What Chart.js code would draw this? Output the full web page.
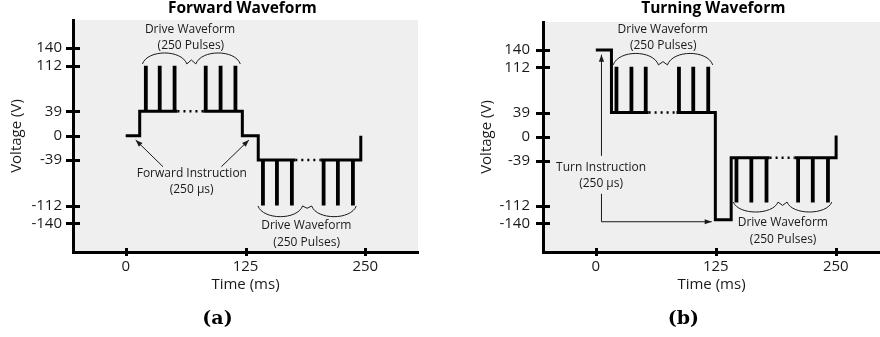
<!DOCTYPE html>
<html><head><meta charset="utf-8">
<script src="https://cdn.jsdelivr.net/npm/chart.js@4.4.1/dist/chart.umd.min.js"></script>
<style>
html,body{margin:0;padding:0;background:#fff;width:880px;height:337px;overflow:hidden}
#wrap{position:relative;width:880px;height:337px}
canvas{position:absolute;top:0}
#ca{left:0}#cb{left:440px}
</style></head><body>
<div id="wrap"><canvas id="ca" width="440" height="337"></canvas><canvas id="cb" width="440" height="337"></canvas></div>
<script>
// ---------------- data ----------------
const xTicks = [0, 125, 250];
const yTicks = [140, 112, 39, 0, -39, -112, -140];

// (a) Forward waveform: step outline (null = break), dotted gaps, pulses
const fwdStepT = [0, 14.6, 14.6, 54, null, 81, 121.7, 121.7, 138.3, 138.3, 177, null, 203, 245.3, 245.3];
const fwdStepV = [0, 0, 39, 39, null, 39, 39, 0, 0, -39, -39, null, -39, -39, 0];
const fwdGapT = [54, 81, null, 177, 203];
const fwdGapV = [39, 39, null, -39, -39];
const fwdPulseUpT = [21, 35.5, 51, 83.5, 99, 114.5];
const fwdPulseDownT = [143.2, 157.8, 173.4, 206.5, 221.4, 237.1];
const fwdUpBase = 39, fwdUpPeak = 112, fwdDownBase = -39, fwdDownPeak = -111.5;

// (b) Turning waveform
const turnStepT = [0, 16.3, 16.3, 55, null, 84, 124.5, 124.5, 141, 141, 181, null, 207, 250.3, 250.3];
const turnStepV = [140, 140, 39, 39, null, 39, 39, -134, -134, -34, -34, null, -34, -34, 2];
const turnGapT = [55, 84, null, 181, 207];
const turnGapV = [39, 39, null, -34, -34];
const turnPulseUpT = [21.5, 37.1, 52, 86.6, 101.5, 117.1];
const turnPulseDownT = [146.5, 162, 177.8, 210.7, 226, 241.8];
const turnUpBase = 39, turnUpPeak = 113, turnDownBase = -34, turnDownPeak = -106;

// ---------------- helpers ----------------
const FONT = '"Open Sans", sans-serif';
const INK = '#1a1a1a';

function zipPts(T, V) {
  const out = [];
  for (let i = 0; i < T.length; i++) {
    if (T[i] === null) out.push({x: T[i - 1], y: null});
    else out.push({x: T[i], y: V[i]});
  }
  return out;
}
function pulsePts(times, base, peak) {
  const out = [];
  times.forEach(t => { out.push({x: t, y: base}, {x: t, y: peak}, {x: t, y: null}); });
  return out;
}

function drawBrace(ctx, x0, x1, yEnd, yBow, yZig) {
  const xm = (x0 + x1) / 2, w = 4.5;
  const c = (yBow - 0.25 * yEnd) / 0.75;
  const L = (xm - w) - x0;
  ctx.beginPath();
  ctx.moveTo(x0, yEnd);
  ctx.bezierCurveTo(x0 + L * 0.12, c, xm - w - L * 0.12, c, xm - w, yEnd);
  ctx.lineTo(xm, yZig);
  ctx.lineTo(xm + w, yEnd);
  ctx.bezierCurveTo(xm + w + L * 0.12, c, x1 - L * 0.12, c, x1, yEnd);
  ctx.stroke();
}
function drawArrow(ctx, pts, head) {
  ctx.beginPath();
  ctx.moveTo(pts[0][0], pts[0][1]);
  for (let i = 1; i < pts.length; i++) ctx.lineTo(pts[i][0], pts[i][1]);
  ctx.stroke();
  if (!head) return;
  const [xa, ya] = pts[pts.length - 2], [xb, yb] = pts[pts.length - 1];
  const a = Math.atan2(yb - ya, xb - xa), Lh = 7, H = 2.6;
  ctx.beginPath();
  ctx.moveTo(xb, yb);
  ctx.lineTo(xb - Lh * Math.cos(a) + H * Math.sin(a), yb - Lh * Math.sin(a) - H * Math.cos(a));
  ctx.lineTo(xb - Lh * Math.cos(a) - H * Math.sin(a), yb - Lh * Math.sin(a) + H * Math.cos(a));
  ctx.closePath();
  ctx.fill();
}

function decorPlugin(ann) {
  return {
    id: 'decor',
    beforeDraw(chart) {
      const {ctx, chartArea: a} = chart;
      ctx.save();
      ctx.fillStyle = '#efefef';
      ctx.fillRect(a.left, a.top, a.right - a.left, a.bottom - a.top);
      ctx.restore();
    },
    afterDraw(chart) {
      const {ctx, chartArea: a} = chart;
      const xs = chart.scales.x, ys = chart.scales.y;
      const X = t => xs.getPixelForValue(t), Y = v => ys.getPixelForValue(v);
      ctx.save();
      // tick marks crossing the axes
      ctx.strokeStyle = '#000'; ctx.lineWidth = 3; ctx.lineCap = 'butt';
      ys.ticks.forEach(tk => { const y = Math.round(Y(tk.value)) + 0.5; ctx.beginPath(); ctx.moveTo(a.left - 7, y); ctx.lineTo(a.left + 7, y); ctx.stroke(); });
      xs.ticks.forEach(tk => { const x = Math.round(X(tk.value)) + 0.5; ctx.beginPath(); ctx.moveTo(x, a.bottom - 4); ctx.lineTo(x, a.bottom + 4); ctx.stroke(); });
      // braces & arrows
      ctx.strokeStyle = INK; ctx.fillStyle = INK; ctx.lineWidth = 1;
      ann.braces.forEach(b => drawBrace(ctx, X(b.t0), X(b.t1), Y(b.end), Y(b.bow), Y(b.zig)));
      ann.arrows.forEach(ar => drawArrow(ctx, ar.pts.map(p => [X(p[0]), Y(p[1])]), ar.head));
      // annotation texts
      ctx.textAlign = 'center'; ctx.textBaseline = 'middle';
      ctx.font = '12px ' + FONT;
      ann.texts.forEach(tx => ctx.fillText(tx[0], X(tx[1]), Y(tx[2])));
      // title and caption
      ctx.fillStyle = '#000';
      ctx.font = 'bold 15.5px ' + FONT;
      ctx.fillText(ann.title, ann.titleX, 8.5);
      ctx.font = 'bold 19px "DejaVu Serif", serif';
      ctx.fillText(ann.caption, ann.captionX, 319);
      ctx.restore();
    }
  };
}

function makeChart(id, cfg) {
  const lineDs = (pts, extra) => Object.assign({
    data: pts, borderColor: '#000', borderWidth: 3, pointRadius: 0, tension: 0,
    spanGaps: false, fill: false, borderJoinStyle: 'miter', borderCapStyle: 'butt'
  }, extra || {});
  return new Chart(document.getElementById(id), {
    type: 'line',
    data: {
      datasets: [
        lineDs(zipPts(cfg.stepT, cfg.stepV)),
        lineDs(zipPts(cfg.gapT, cfg.gapV), {borderDash: [2, 4], borderWidth: 2.5}),
        lineDs(pulsePts(cfg.upT, cfg.upBase, cfg.upPeak), {borderWidth: 3.8}),
        lineDs(pulsePts(cfg.downT, cfg.downBase, cfg.downPeak), {borderWidth: 3.8})
      ]
    },
    options: {
      responsive: false, animation: false, devicePixelRatio: 1,
      layout: {padding: cfg.padding},
      plugins: {legend: {display: false}, tooltip: {enabled: false}, title: {display: false}},
      scales: {
        x: {
          type: 'linear', min: cfg.xMin, max: cfg.xMax,
          afterBuildTicks: s => { s.ticks = xTicks.map(v => ({value: v})); },
          afterFit: s => { s.height = 43; },
          grid: {display: true, drawOnChartArea: false, drawTicks: false, color: 'rgba(0,0,0,0)'},
          border: {display: true, color: '#000', width: 3},
          ticks: {autoSkip: false, maxRotation: 0, padding: 6, color: INK, font: {family: FONT, size: 15}},
          title: {display: true, text: 'Time (ms)', color: INK, font: {family: FONT, size: 15}, padding: 1}
        },
        y: {
          type: 'linear', min: -186, max: 185,
          afterBuildTicks: s => { s.ticks = yTicks.map(v => ({value: v})); },
          afterFit: s => { s.width = cfg.yWidth; },
          grid: {display: true, drawOnChartArea: false, drawTicks: false, color: 'rgba(0,0,0,0)'},
          border: {display: true, color: '#000', width: 3},
          ticks: {autoSkip: false, padding: cfg.yTickPad, color: INK, font: {family: FONT, size: 15}},
          title: {display: true, text: 'Voltage (V)', color: INK, font: {family: FONT, size: 15}, padding: cfg.yTitlePad}
        }
      }
    },
    plugins: [decorPlugin(cfg.ann)]
  });
}

makeChart('ca', {
  stepT: fwdStepT, stepV: fwdStepV, gapT: fwdGapT, gapV: fwdGapV,
  upT: fwdPulseUpT, upBase: fwdUpBase, upPeak: fwdUpPeak,
  downT: fwdPulseDownT, downBase: fwdDownBase, downPeak: fwdDownPeak,
  xMin: -55, xMax: 305, yWidth: 73, yTickPad: 11, yTitlePad: 8,
  padding: {top: 20, right: 22, bottom: 42, left: 0},
  ann: {
    title: 'Forward Waveform', titleX: 242.3, caption: '(a)', captionX: 217.5,
    texts: [['Drive Waveform', 67.1, 169], ['(250 Pulses)', 68, 144.6],
            ['Forward Instruction', 69, -61.3], ['(250 µs)', 68.8, -86],
            ['Drive Waveform', 188.5, -143.9], ['(250 Pulses)', 188.8, -170.5]],
    braces: [{t0: 17.4, t1: 119.6, end: 114.7, bow: 132.3, zig: 121.1},
             {t0: 138, t1: 240.6, end: -112.4, bow: -129.5, zig: -116.1}],
    arrows: [{pts: [[38.9, -49.6], [10.4, -6.9]], head: true},
             {pts: [[99.8, -49.6], [128.6, -6.9]], head: true}]
  }
});

makeChart('cb', {
  stepT: turnStepT, stepV: turnStepV, gapT: turnGapT, gapV: turnGapV,
  upT: turnPulseUpT, upBase: turnUpBase, upPeak: turnUpPeak,
  downT: turnPulseDownT, downBase: turnDownBase, downPeak: turnDownPeak,
  xMin: -55, xMax: 296, yWidth: 103, yTickPad: 13, yTitlePad: 38,
  padding: {top: 20, right: 0, bottom: 42, left: 0},
  ann: {
    title: 'Turning Waveform', titleX: 273.3, caption: '(b)', captionX: 243.3,
    texts: [['Drive Waveform', 69.7, 172.2], ['(250 Pulses)', 70.2, 147],
            ['Turn Instruction', 5.5, -50.4], ['(250 µs)', 5.5, -75.3],
            ['Drive Waveform', 194.8, -139.3], ['(250 Pulses)', 195.1, -166]],
    braces: [{t0: 18.1, t1: 121.8, end: 115.8, bow: 134.3, zig: 121.1},
             {t0: 143.2, t1: 245.8, end: -105.5, bow: -121.5, zig: -110.8}],
    arrows: [{pts: [[5.9, -30.9], [5.9, 132.3]], head: true},
             {pts: [[5.9, -92.1], [5.9, -137.2], [120.7, -137.2]], head: true}]
  }
});
</script>
</body></html>
